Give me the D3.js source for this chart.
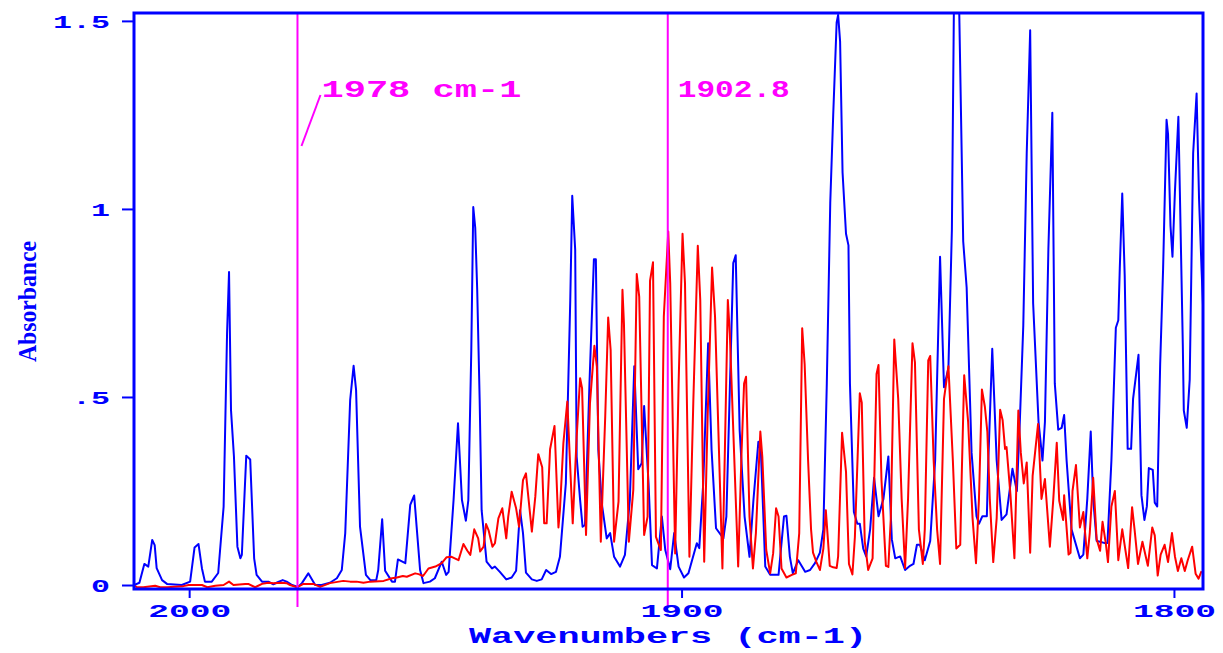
<!DOCTYPE html>
<html><head><meta charset="utf-8">
<script src="https://cdn.jsdelivr.net/npm/d3@7/dist/d3.min.js"></script>
<style>body{margin:0;background:#fff;} svg{display:block;}</style>
</head><body><svg id="c" width="1223" height="653"></svg>
<script>
const xTicks=[2000,1900,1800];
const xTickLabels=["2000","1900","1800"];
const yTicks=[0,0.5,1,1.5];
const yTickLabels=["0",".5","1","1.5"];
const markerWavenumbers=[1978,1902.8];
const markerLabels=["1978 cm-1","1902.8"];
const xTitle="Wavenumbers (cm-1)";
const yTitle="Absorbance";

const blueWavenumbers=[2011.2,2010.1,2009.1,2008.3,2007.5,2007.0,2006.6,2005.5,2004.5,2001.5,1999.8,1998.9,1998.1,1997.4,1996.8,1995.4,1994.1,1993.0,1992.3,1991.9,1991.5,1990.9,1990.2,1989.6,1989.3,1988.4,1987.6,1986.8,1986.3,1985.2,1983.9,1982.9,1981.9,1981.0,1980.2,1979.1,1977.9,1977.1,1975.8,1974.4,1973.1,1971.4,1970.0,1969.0,1968.3,1967.3,1966.6,1966.1,1965.3,1964.1,1963.2,1962.0,1961.6,1960.8,1960.2,1958.8,1958.2,1957.6,1956.1,1955.1,1954.3,1953.8,1953.1,1952.4,1951.1,1950.1,1948.7,1947.8,1947.3,1946.3,1945.4,1944.6,1943.8,1943.3,1942.7,1942.3,1941.9,1941.5,1941.0,1940.6,1939.6,1938.5,1937.9,1936.9,1935.6,1934.5,1933.6,1932.8,1932.2,1931.6,1930.4,1929.4,1928.4,1927.5,1926.5,1925.5,1924.7,1923.5,1922.6,1922.2,1921.6,1921.3,1920.6,1920.1,1919.6,1918.7,1917.8,1917.4,1916.9,1916.2,1915.2,1914.5,1913.7,1912.5,1911.5,1910.5,1909.6,1908.8,1908.1,1907.6,1906.7,1906.0,1905.0,1904.0,1903.3,1902.3,1901.5,1900.6,1899.5,1898.6,1896.9,1896.4,1895.6,1894.6,1893.9,1893.0,1891.5,1890.9,1889.5,1889.0,1888.2,1887.2,1886.2,1885.4,1884.4,1883.9,1883.0,1882.0,1880.3,1879.2,1878.7,1878.0,1877.4,1876.3,1874.9,1873.9,1872.9,1871.9,1871.2,1870.5,1869.8,1869.2,1868.5,1868.2,1867.8,1867.3,1866.6,1866.1,1865.8,1865.0,1864.3,1863.8,1863.1,1862.5,1861.7,1860.9,1860.0,1859.0,1858.0,1857.3,1856.6,1855.6,1854.6,1853.6,1852.9,1852.2,1851.6,1850.6,1849.5,1848.5,1847.5,1846.7,1845.8,1845.1,1844.7,1844.2,1843.6,1842.8,1842.1,1841.1,1840.1,1839.6,1838.9,1838.0,1837.7,1836.9,1836.0,1835.0,1834.0,1832.8,1831.9,1831.3,1830.6,1829.9,1829.2,1828.6,1827.5,1826.7,1826.2,1825.5,1824.7,1824.2,1823.5,1822.8,1822.3,1821.8,1820.8,1819.1,1818.4,1817.6,1816.9,1816.4,1815.7,1815.0,1814.2,1813.5,1812.7,1811.8,1811.3,1811.0,1810.5,1810.0,1809.4,1808.7,1808.3,1807.2,1806.6,1806.0,1805.5,1805.1,1804.3,1803.9,1803.4,1802.8,1802.2,1801.5,1801.2,1800.7,1800.3,1799.8,1799.1,1798.8,1798.2,1798.0,1797.4,1796.8,1796.1,1795.4,1794.9,1794.4,1793.9];
const blueAbsorbance=[0,0.006,0.056,0.049,0.12,0.106,0.045,0.013,0.003,0,0.009,0.1,0.109,0.044,0.009,0.009,0.032,0.208,0.67,0.832,0.465,0.341,0.102,0.071,0.08,0.344,0.334,0.071,0.027,0.009,0.009,0.002,0.008,0.013,0.009,0,-0.005,0.005,0.031,0,0,0.006,0.018,0.04,0.138,0.492,0.583,0.519,0.155,0.027,0.013,0.013,0.04,0.175,0.038,0.009,0.009,0.068,0.058,0.213,0.238,0.155,0.04,0.005,0.009,0.018,0.062,0.027,0.035,0.226,0.43,0.226,0.171,0.226,0.625,1.005,0.95,0.785,0.492,0.199,0.062,0.044,0.049,0.035,0.015,0.02,0.038,0.199,0.138,0.033,0.015,0.011,0.015,0.04,0.029,0.035,0.075,0.27,0.758,1.035,0.891,0.341,0.226,0.155,0.16,0.536,0.866,0.866,0.359,0.217,0.124,0.138,0.075,0.049,0.08,0.226,0.582,0.308,0.324,0.476,0.27,0.053,0.044,0.182,0.093,0.042,0.138,0.049,0.02,0.031,0.111,0.098,0.27,0.643,0.359,0.151,0.124,0.182,0.856,0.877,0.412,0.182,0.075,0.226,0.381,0.359,0.049,0.027,0.027,0.182,0.184,0.075,0.031,0.066,0.035,0.04,0.058,0.086,0.148,0.536,1.016,1.25,1.496,1.516,1.445,1.097,0.934,0.903,0.536,0.194,0.163,0.163,0.097,0.076,0.148,0.285,0.183,0.229,0.342,0.122,0.071,0.076,0.04,0.051,0.056,0.107,0.107,0.066,0.117,0.331,0.873,0.526,0.577,0.944,1.52,1.62,1.52,0.914,0.791,0.352,0.183,0.163,0.183,0.183,0.331,0.628,0.331,0.173,0.188,0.309,0.25,0.434,0.689,1.148,1.475,0.75,0.434,0.331,0.434,0.893,1.256,0.536,0.413,0.418,0.452,0.331,0.148,0.071,0.081,0.229,0.408,0.229,0.117,0.115,0.112,0.112,0.331,0.684,0.704,0.842,1.041,0.822,0.362,0.362,0.495,0.612,0.239,0.173,0.209,0.311,0.306,0.219,0.209,0.587,0.842,1.237,1.199,0.955,0.873,1.046,1.245,1.046,0.638,0.464,0.418,0.546,1.148,1.307,1.026,0.842,0.68];

const redWavenumbers=[2011.3,2010.7,2009.3,2006.9,2005.9,2004.5,2001.2,2000.1,1997.4,1996.3,1994.7,1993.0,1991.9,1991.0,1988.6,1988.0,1986.6,1985.2,1983.9,1982.9,1981.2,1980.2,1979.5,1978.1,1976.8,1974.8,1973.4,1971.4,1968.7,1967.3,1966.0,1964.6,1963.2,1960.5,1958.8,1957.8,1956.6,1955.8,1954.1,1953.4,1952.5,1951.4,1950.0,1948.7,1947.7,1946.7,1945.3,1944.3,1943.5,1942.9,1942.1,1941.3,1940.9,1940.2,1939.7,1939.2,1938.4,1937.9,1937.2,1936.4,1935.6,1935.2,1934.5,1933.6,1933.0,1932.2,1931.6,1930.4,1929.7,1929.1,1928.3,1927.9,1927.4,1926.7,1925.8,1925.0,1924.7,1924.0,1923.2,1922.1,1921.3,1920.6,1920.2,1919.4,1918.6,1917.7,1917.2,1916.4,1915.5,1914.9,1914.4,1913.7,1912.8,1912.0,1911.7,1910.7,1909.8,1909.1,1908.6,1907.6,1906.9,1906.4,1905.8,1905.2,1904.2,1903.6,1902.7,1902.3,1901.3,1900.6,1899.8,1899.3,1898.4,1897.6,1896.7,1896.2,1895.4,1894.7,1893.8,1893.2,1891.7,1891.2,1890.6,1890.2,1888.5,1887.8,1887.3,1886.9,1886.2,1885.5,1884.9,1884.0,1883.6,1882.8,1882.0,1881.4,1880.8,1880.3,1879.7,1878.7,1877.6,1876.8,1876.1,1875.5,1875.0,1874.3,1873.7,1873.3,1872.6,1871.9,1871.2,1870.7,1869.9,1869.2,1868.5,1868.2,1867.4,1866.6,1866.0,1865.3,1864.8,1863.8,1863.4,1862.8,1862.1,1861.2,1860.4,1860.0,1859.4,1858.5,1858.0,1857.5,1856.8,1856.0,1855.3,1854.6,1854.0,1853.1,1852.6,1851.8,1851.0,1850.6,1849.9,1849.5,1848.8,1848.1,1847.5,1846.7,1845.8,1844.9,1844.2,1843.4,1843.1,1842.6,1841.8,1840.9,1840.2,1839.6,1839.0,1838.4,1837.9,1837.4,1836.7,1836.0,1835.3,1834.8,1834.3,1834.0,1833.2,1832.4,1831.6,1831.1,1830.5,1829.9,1829.2,1828.7,1827.6,1826.9,1826.2,1825.2,1824.5,1823.8,1823.3,1822.5,1822.3,1821.4,1821.0,1820.6,1819.9,1819.1,1818.4,1817.6,1817.1,1816.4,1815.7,1815.0,1814.5,1813.8,1813.4,1812.7,1812.0,1811.3,1810.5,1809.3,1808.5,1808.0,1807.3,1806.4,1805.3,1804.4,1803.9,1803.3,1802.7,1801.9,1801.2,1800.4,1799.8,1799.2,1798.5,1797.8,1797.2,1796.3,1795.6,1795.0,1794.4];
const redAbsorbance=[0,-0.005,-0.006,-0.002,-0.006,-0.006,-0.003,0,0,-0.006,-0.002,0,0.009,0,0.003,0.003,-0.006,0.003,0.006,0.005,0.006,0.005,0,-0.006,0.003,0.003,-0.005,0.005,0.011,0.009,0.009,0.006,0.009,0.011,0.018,0.02,0.024,0.022,0.031,0.029,0.024,0.044,0.049,0.058,0.074,0.075,0.066,0.109,0.091,0.08,0.148,0.124,0.089,0.102,0.162,0.146,0.102,0.111,0.177,0.204,0.124,0.182,0.248,0.204,0.155,0.279,0.297,0.142,0.235,0.348,0.313,0.164,0.164,0.361,0.423,0.153,0.199,0.377,0.488,0.164,0.394,0.55,0.523,0.133,0.483,0.636,0.581,0.115,0.448,0.711,0.625,0.115,0.222,0.785,0.696,0.115,0.253,0.827,0.767,0.133,0.182,0.809,0.858,0.128,0.093,0.714,0.94,0.802,0.084,0.536,0.934,0.802,0.075,0.492,0.902,0.758,0.062,0.448,0.844,0.714,0.044,0.359,0.758,0.669,0.049,0.359,0.536,0.554,0.182,0.044,0.138,0.408,0.341,0.093,0.031,0.084,0.204,0.182,0.044,0.02,0.027,0.031,0.138,0.683,0.587,0.331,0.148,0.086,0.061,0.04,0.097,0.199,0.051,0.047,0.045,0.076,0.405,0.301,0.056,0.028,0.127,0.51,0.485,0.117,0.04,0.071,0.561,0.585,0.28,0.051,0.048,0.178,0.653,0.495,0.229,0.045,0.229,0.643,0.592,0.148,0.056,0.148,0.597,0.609,0.331,0.148,0.056,0.495,0.582,0.331,0.097,0.107,0.29,0.558,0.434,0.178,0.058,0.229,0.52,0.474,0.408,0.229,0.061,0.178,0.466,0.439,0.362,0.367,0.239,0.071,0.464,0.352,0.27,0.326,0.086,0.29,0.428,0.229,0.282,0.102,0.229,0.378,0.224,0.173,0.239,0.081,0.086,0.25,0.319,0.153,0.194,0.071,0.138,0.285,0.122,0.091,0.168,0.107,0.061,0.209,0.25,0.066,0.148,0.045,0.207,0.148,0.056,0.115,0.051,0.153,0.132,0.025,0.081,0.107,0.061,0.138,0.076,0.037,0.071,0.037,0.066,0.102,0.03,0.017,0.037];

const BLUE="#0000ff", RED="#ff0000", MAG="#ff00ff";
const FONT="'Liberation Mono', 'DejaVu Sans Mono', monospace";
const m={l:134,r:1203,t:13,b:589};
const x=d3.scaleLinear().domain([2011.2,1794.1]).range([m.l,m.r]);
const y=d3.scaleLinear().domain([-0.0106,1.521]).range([m.b,m.t]);
const svg=d3.select('#c');
svg.append('rect').attr('width',1223).attr('height',653).attr('fill','#fff');
svg.append('defs').append('clipPath').attr('id','clip').append('rect')
  .attr('x',m.l).attr('y',m.t).attr('width',m.r-m.l).attr('height',m.b-m.t);

const blue=blueWavenumbers.map((w,i)=>[w,blueAbsorbance[i]]);
const red=redWavenumbers.map((w,i)=>[w,redAbsorbance[i]]);
const line=d3.line().x(d=>x(d[0])).y(d=>y(d[1]));
const plot=svg.append('g').attr('clip-path','url(#clip)');
plot.append('path').datum(blue).attr('d',line).attr('fill','none').attr('stroke',BLUE).attr('stroke-width',2).attr('stroke-linejoin','round');
plot.append('path').datum(red).attr('d',line).attr('fill','none').attr('stroke',RED).attr('stroke-width',2).attr('stroke-linejoin','round');

// marker lines
svg.selectAll('line.marker').data(markerWavenumbers).join('line').attr('class','marker')
  .attr('x1',d=>x(d)).attr('x2',d=>x(d)).attr('y1',m.t).attr('y2',607)
  .attr('stroke',MAG).attr('stroke-width',2);
// marker labels
svg.append('line').attr('x1',x(markerWavenumbers[0])+4).attr('y1',146).attr('x2',x(markerWavenumbers[0])+23).attr('y2',95)
  .attr('stroke',MAG).attr('stroke-width',2);
svg.append('text').attr('x',x(markerWavenumbers[0])+24).attr('y',97).text(markerLabels[0])
  .attr('font-family',FONT).attr('font-weight','bold').attr('font-size',23).attr('fill',MAG)
  .attr('textLength',200).attr('lengthAdjust','spacingAndGlyphs');
svg.append('text').attr('x',x(markerWavenumbers[1])+10).attr('y',97).text(markerLabels[1])
  .attr('font-family',FONT).attr('font-weight','bold').attr('font-size',23).attr('fill',MAG)
  .attr('textLength',112).attr('lengthAdjust','spacingAndGlyphs');

// frame
svg.append('rect').attr('x',m.l).attr('y',m.t).attr('width',m.r-m.l).attr('height',m.b-m.t)
  .attr('fill','none').attr('stroke',BLUE).attr('stroke-width',3);

// y axis
const ya=svg.append('g').attr('transform',`translate(${m.l},0)`)
  .call(d3.axisLeft(y).tickValues(yTicks).tickFormat((d,i)=>yTickLabels[i]).tickSize(12).tickSizeOuter(0));
ya.select('.domain').remove();
ya.selectAll('.tick line').attr('stroke',BLUE).attr('stroke-width',2);
ya.selectAll('.tick text').attr('x',-24).attr('dy','0.36em').attr('fill',BLUE)
  .attr('font-family',FONT).attr('font-weight','bold').attr('font-size',19)
  .attr('textLength',(d,i)=>yTickLabels[i].length*19).attr('lengthAdjust','spacingAndGlyphs');

// x axis
const xa=svg.append('g').attr('transform',`translate(0,${m.b})`)
  .call(d3.axisBottom(x).tickValues(xTicks).tickFormat((d,i)=>xTickLabels[i]).tickSize(9).tickSizeOuter(0));
xa.select('.domain').remove();
xa.selectAll('.tick line').attr('stroke',BLUE).attr('stroke-width',2);
xa.selectAll('.tick text').attr('y',28).attr('dy',0).attr('fill',BLUE)
  .attr('font-family',FONT).attr('font-weight','bold').attr('font-size',19)
  .attr('textLength',83).attr('lengthAdjust','spacingAndGlyphs');

// titles
svg.append('text').attr('x',469).attr('y',643).text(xTitle).attr('fill',BLUE)
  .attr('font-family',FONT).attr('font-weight','bold').attr('font-size',22)
  .attr('textLength',398).attr('lengthAdjust','spacingAndGlyphs');
svg.append('text').attr('transform','translate(36,362) rotate(-90)').text(yTitle).attr('fill',BLUE)
  .attr('font-family',"'Liberation Serif', serif").attr('font-weight','bold').attr('font-size',26)
  .attr('textLength',121).attr('lengthAdjust','spacingAndGlyphs');
</script></body></html>
